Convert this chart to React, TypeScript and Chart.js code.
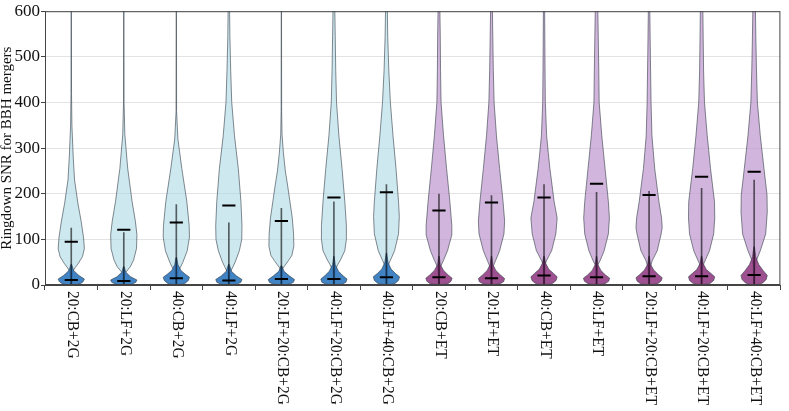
import { useEffect, useRef } from 'react';
import { Chart, registerables } from 'chart.js';

Chart.register(...registerables);

const categories = [
  '20:CB+2G', '20:LF+2G', '40:CB+2G', '40:LF+2G', '20:LF+20:CB+2G', '40:LF+20:CB+2G', '40:LF+40:CB+2G',
  '20:CB+ET', '20:LF+ET', '40:CB+ET', '40:LF+ET', '20:LF+20:CB+ET', '40:LF+20:CB+ET', '40:LF+40:CB+ET',
];

// medians of the wide (light) distributions
const lightMedian = [95, 121, 137, 174, 140, 192, 203, 163, 181, 192, 222, 197, 237, 248];
// medians of the low (dark) distributions
const darkMedian = [11, 9, 15, 10, 13, 13, 17, 17, 15, 21, 17, 19, 19, 22];
// extent of the dark distributions
const darkMin = [1, 1, 1, 1, 1, 1, 1, 1, 1, 1, 1, 1, 1, 1];
const darkMax = [125, 115, 176, 136, 168, 182, 220, 199, 196, 220, 203, 205, 212, 230];

// violin outlines: [SNR value, relative half width]
const lightShapes: number[][][] = [
  [[640, 0.01], [420, 0.02], [350, 0.05], [280, 0.15], [230, 0.25], [180, 0.5], [140, 0.75], [105, 0.93], [80, 1.0], [62, 0.85], [48, 0.55], [35, 0.22], [27, 0.1], [15, 0.06], [2, 0.05]],
  [[640, 0.01], [400, 0.02], [330, 0.08], [255, 0.3], [183, 0.63], [140, 0.88], [110, 1.0], [80, 0.97], [55, 0.75], [40, 0.5], [28, 0.15], [20, 0.07], [2, 0.05]],
  [[640, 0.01], [380, 0.02], [320, 0.12], [255, 0.42], [183, 0.8], [130, 0.98], [105, 1.0], [75, 0.83], [50, 0.5], [38, 0.3], [30, 0.12], [20, 0.07], [2, 0.05]],
  [[640, 0.04], [544, 0.08], [470, 0.14], [400, 0.22], [327, 0.43], [255, 0.72], [183, 0.92], [130, 1.0], [100, 0.98], [75, 0.8], [50, 0.48], [38, 0.28], [27, 0.1], [15, 0.06], [2, 0.05]],
  [[640, 0.01], [380, 0.02], [330, 0.05], [291, 0.15], [250, 0.3], [219, 0.47], [183, 0.65], [147, 0.83], [112, 0.93], [85, 0.95], [65, 0.8], [54, 0.55], [42, 0.25], [36, 0.1], [25, 0.06], [2, 0.05]],
  [[640, 0.05], [544, 0.1], [470, 0.14], [400, 0.2], [327, 0.38], [255, 0.62], [183, 0.83], [130, 0.95], [100, 0.95], [75, 0.83], [55, 0.5], [45, 0.3], [33, 0.1], [20, 0.06], [2, 0.05]],
  [[640, 0.05], [544, 0.1], [470, 0.18], [400, 0.3], [327, 0.5], [255, 0.73], [183, 0.92], [150, 0.98], [112, 0.92], [75, 0.62], [54, 0.3], [43, 0.12], [30, 0.06], [2, 0.05]],
  [[640, 0.05], [544, 0.1], [470, 0.12], [400, 0.16], [327, 0.35], [255, 0.58], [183, 0.83], [130, 0.98], [110, 0.98], [75, 0.65], [54, 0.35], [40, 0.12], [28, 0.06], [2, 0.05]],
  [[640, 0.05], [544, 0.1], [470, 0.14], [400, 0.2], [327, 0.38], [255, 0.62], [183, 0.88], [140, 1.0], [112, 0.95], [75, 0.62], [54, 0.32], [40, 0.12], [28, 0.06], [2, 0.05]],
  [[640, 0.04], [500, 0.07], [400, 0.1], [327, 0.2], [291, 0.32], [255, 0.45], [183, 0.77], [147, 1.0], [112, 0.9], [75, 0.58], [54, 0.2], [45, 0.08], [30, 0.06], [2, 0.05]],
  [[640, 0.08], [544, 0.13], [471, 0.17], [400, 0.2], [327, 0.4], [255, 0.65], [183, 0.9], [147, 0.98], [112, 0.9], [75, 0.58], [54, 0.28], [44, 0.1], [30, 0.06], [2, 0.05]],
  [[640, 0.04], [500, 0.1], [400, 0.15], [327, 0.22], [255, 0.43], [183, 0.75], [147, 0.95], [126, 1.0], [112, 0.92], [75, 0.62], [54, 0.25], [40, 0.1], [28, 0.06], [2, 0.05]],
  [[640, 0.08], [544, 0.12], [471, 0.15], [400, 0.22], [327, 0.43], [255, 0.68], [183, 0.98], [147, 1.0], [112, 0.92], [75, 0.6], [47, 0.17], [38, 0.08], [25, 0.06], [2, 0.05]],
  [[640, 0.08], [544, 0.13], [471, 0.18], [400, 0.25], [327, 0.47], [255, 0.75], [198, 0.98], [160, 1.0], [112, 0.88], [75, 0.47], [54, 0.17], [45, 0.08], [30, 0.06], [2, 0.05]],
];

const darkShapes: number[][][] = [
  [[45, 0.03], [32, 0.17], [21, 0.58], [13, 1.0], [7, 0.9], [3, 0.7], [1, 0.45], [0.5, 0]],
  [[40, 0.03], [28, 0.15], [18, 0.52], [11, 1.0], [6, 0.92], [2, 0.65], [1, 0.4], [0.5, 0]],
  [[60, 0.03], [45, 0.12], [32, 0.35], [24, 0.67], [17, 1.0], [10, 0.92], [4, 0.68], [1.5, 0.4], [1, 0]],
  [[45, 0.03], [30, 0.2], [20, 0.57], [12, 1.0], [6, 0.92], [2, 0.65], [1, 0.4], [0.5, 0]],
  [[42, 0.03], [30, 0.2], [20, 0.6], [12, 1.0], [6, 0.92], [2, 0.65], [1, 0.4], [0.5, 0]],
  [[63, 0.02], [45, 0.1], [30, 0.35], [20, 0.7], [13, 1.0], [6, 0.92], [2, 0.65], [1, 0.4], [0.5, 0]],
  [[70, 0.02], [50, 0.12], [35, 0.35], [25, 0.7], [18, 1.0], [10, 0.92], [4, 0.68], [1.5, 0.4], [1, 0]],
  [[63, 0.02], [45, 0.1], [32, 0.35], [22, 0.7], [15, 1.0], [8, 0.92], [3, 0.68], [1.5, 0.4], [1, 0]],
  [[63, 0.02], [45, 0.1], [32, 0.33], [22, 0.68], [14, 1.0], [7, 0.92], [3, 0.65], [1.5, 0.4], [1, 0]],
  [[63, 0.02], [48, 0.12], [35, 0.35], [26, 0.7], [18, 1.0], [10, 0.92], [4, 0.68], [1.5, 0.4], [1, 0]],
  [[63, 0.02], [45, 0.1], [32, 0.33], [22, 0.68], [15, 1.0], [8, 0.92], [3, 0.65], [1.5, 0.4], [1, 0]],
  [[63, 0.02], [46, 0.1], [33, 0.35], [23, 0.7], [16, 1.0], [9, 0.92], [3, 0.66], [1.5, 0.4], [1, 0]],
  [[63, 0.02], [47, 0.12], [34, 0.36], [25, 0.72], [18, 1.0], [10, 0.92], [4, 0.67], [1.5, 0.4], [1, 0]],
  [[84, 0.02], [62, 0.12], [45, 0.35], [32, 0.68], [21, 1.0], [12, 0.92], [5, 0.68], [1.5, 0.4], [1, 0]],
];

// first 7 detector networks use the blue palette, the rest purple
const groupOf = [0, 0, 0, 0, 0, 0, 0, 1, 1, 1, 1, 1, 1, 1];
const lightFill = ['rgba(173,216,230,0.6)', 'rgba(190,150,205,0.7)'];
const darkFill = ['rgba(46,117,190,0.9)', 'rgba(140,50,125,0.85)'];
const edgeColor = 'rgba(50,60,70,0.75)';

const FONT = '"Liberation Serif", "Times New Roman", serif';

function drawViolin(ctx: CanvasRenderingContext2D, xs: any, ys: any, i: number, shape: number[][], fill: string) {
  const cx = xs.getPixelForValue(i);
  const half = (xs.getPixelForValue(1) - xs.getPixelForValue(0)) * 0.25;
  ctx.beginPath();
  shape.forEach(([v, w], k) => {
    const px = cx + w * half;
    const py = ys.getPixelForValue(v);
    if (k === 0) ctx.moveTo(px, py);
    else ctx.lineTo(px, py);
  });
  for (let k = shape.length - 1; k >= 0; k--) {
    const [v, w] = shape[k];
    ctx.lineTo(cx - w * half, ys.getPixelForValue(v));
  }
  ctx.closePath();
  ctx.fillStyle = fill;
  ctx.fill();
  ctx.lineWidth = 0.8;
  ctx.strokeStyle = edgeColor;
  ctx.stroke();
}

const violinPlugin = {
  id: 'violins',
  beforeDatasetsDraw(chart: any) {
    const { ctx, chartArea, scales } = chart;
    const xs = scales.x;
    const ys = scales.y;
    ctx.save();
    ctx.beginPath();
    ctx.rect(chartArea.left, chartArea.top, chartArea.right - chartArea.left, chartArea.bottom - chartArea.top);
    ctx.clip();
    categories.forEach((_, i) => {
      drawViolin(ctx, xs, ys, i, lightShapes[i], lightFill[groupOf[i]]);
    });
    categories.forEach((_, i) => {
      drawViolin(ctx, xs, ys, i, darkShapes[i], darkFill[groupOf[i]]);
    });
    ctx.restore();
  },
  afterDraw(chart: any) {
    const { ctx, chartArea, scales } = chart;
    const xs = scales.x;
    ctx.save();
    ctx.strokeStyle = '#444';
    ctx.lineWidth = 1;
    ctx.strokeRect(chartArea.left + 0.5, chartArea.top + 0.5, chartArea.right - chartArea.left - 1, chartArea.bottom - chartArea.top - 1);
    ctx.fillStyle = '#111';
    ctx.font = `16px ${FONT}`;
    ctx.textAlign = 'left';
    ctx.textBaseline = 'middle';
    categories.forEach((lab, i) => {
      const x = xs.getPixelForValue(i);
      ctx.save();
      ctx.translate(x + 1, chartArea.bottom + 6);
      ctx.rotate(Math.PI / 2);
      ctx.scale(0.96, 1);
      ctx.fillText(lab, 0, 0);
      ctx.restore();
    });
    ctx.restore();
  },
};

export default function App() {
  const ref = useRef<HTMLCanvasElement>(null);
  useEffect(() => {
    document.body.style.margin = '0';
    const canvas = ref.current!;
    const chart = new Chart(canvas, {
      type: 'line',
      data: {
        labels: categories,
        datasets: [
          {
            type: 'line',
            data: lightMedian,
            showLine: false,
            pointStyle: 'line',
            pointRadius: 6.6,
            pointBorderWidth: 2,
            pointBorderColor: '#000',
            borderColor: '#000',
            order: 1,
          },
          {
            type: 'line',
            data: darkMedian,
            showLine: false,
            pointStyle: 'line',
            pointRadius: 6.6,
            pointBorderWidth: 2,
            pointBorderColor: '#000',
            borderColor: '#000',
            order: 1,
          },
          {
            type: 'bar',
            data: darkMax.map((m, i) => [darkMin[i], m]),
            backgroundColor: 'rgba(0,0,0,0.6)',
            borderWidth: 0,
            barThickness: 1,
            order: 2,
          } as any,
        ],
      },
      options: {
        animation: false,
        responsive: false,
        devicePixelRatio: 1,
        events: [],
        layout: { padding: { top: 7, right: 4, left: 0, bottom: 0 } },
        plugins: { legend: { display: false }, tooltip: { enabled: false } },
        scales: {
          x: {
            type: 'category',
            offset: true,
            grid: { display: true, drawOnChartArea: false, drawTicks: true, tickLength: 5, tickColor: '#444' },
            border: { display: true, color: '#444' },
            ticks: { display: false },
            afterFit: (s: any) => { s.height = 126; },
          },
          y: {
            min: 0,
            max: 600,
            ticks: { stepSize: 100, color: '#111', padding: 1, font: { family: FONT, size: 17 } },
            grid: { color: '#e3e3e3', tickColor: '#444', tickLength: 4 },
            border: { display: true, color: '#444' },
            title: {
              display: true,
              text: 'Ringdown SNR for BBH mergers',
              color: '#111',
              padding: 0,
              font: { family: FONT, size: 15, lineHeight: 1 },
            },
            afterFit: (s: any) => { s.width = 45; },
          },
        },
      },
      plugins: [violinPlugin],
    });
    return () => chart.destroy();
  }, []);
  return (
    <div style={{ width: 789, height: 411 }}>
      <canvas ref={ref} width={789} height={411} style={{ display: 'block', width: 789, height: 411 }} />
    </div>
  );
}
